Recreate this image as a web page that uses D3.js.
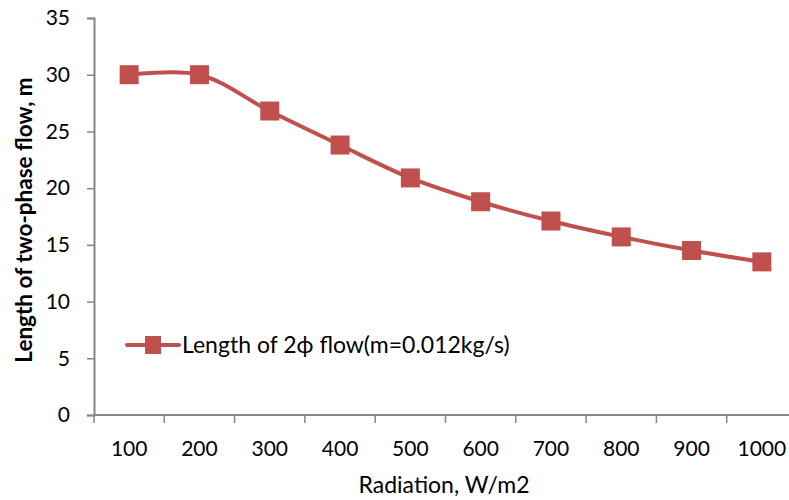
<!DOCTYPE html>
<html>
<head>
<meta charset="utf-8">
<script src="https://cdn.jsdelivr.net/npm/d3@7"></script>
<style>
  body { margin: 0; background: #fff; }
  svg text { font-family: Lato, "Open Sans", sans-serif; fill: #000; }
</style>
</head>
<body>
<svg id="chart" width="789" height="500"></svg>
<script>
// chart data
const radiation = ['100', '200', '300', '400', '500', '600', '700', '800', '900', '1000'];
const flowLength = [30, 30, 26.8, 23.8, 20.9, 18.8, 17.1, 15.7, 14.5, 13.5];
const yTicks = [0, 5, 10, 15, 20, 25, 30, 35];
const seriesName = 'Length of 2\u03d5 flow(m=0.012kg/s)';

const red = '#c0504d';
const axisGray = '#868686';

const margin = { left: 94, right: -8, top: 18, bottom: 85 };
const w = 789, h = 500;

const svg = d3.select('#chart');

const x = d3.scaleBand()
  .domain(radiation)
  .range([margin.left, w - margin.right]);

const y = d3.scaleLinear()
  .domain([0, 35])
  .range([h - margin.bottom, margin.top]);

// y axis
const yAxis = svg.append('g')
  .attr('transform', `translate(${margin.left},0)`)
  .call(d3.axisLeft(y).tickValues(yTicks).tickSize(7).tickPadding(17));
yAxis.select('.domain').attr('stroke', axisGray).attr('stroke-width', 2);
yAxis.selectAll('.tick line').attr('stroke', axisGray).attr('stroke-width', 1.5);
yAxis.selectAll('.tick text').style('font-size', '21px').attr('fill', '#000');

// x axis (ticks on band boundaries)
const xAxisG = svg.append('g')
  .attr('transform', `translate(0,${y(0)})`);
xAxisG.append('line')
  .attr('x1', margin.left).attr('x2', w - margin.right)
  .attr('stroke', axisGray).attr('stroke-width', 2);
const bounds = radiation.map(d => x(d)).concat([x(radiation[radiation.length - 1]) + x.bandwidth()]);
xAxisG.selectAll('line.tk')
  .data(bounds)
  .enter()
  .append('line')
  .attr('class', 'tk')
  .attr('x1', d => d).attr('x2', d => d)
  .attr('y1', 0).attr('y2', 8)
  .attr('stroke', axisGray).attr('stroke-width', 1.5);
xAxisG.selectAll('text')
  .data(radiation)
  .enter()
  .append('text')
  .attr('x', d => x(d) + x.bandwidth() / 2)
  .attr('y', 41)
  .attr('text-anchor', 'middle')
  .style('font-size', '21px')
  .text(d => d);

// axis titles
svg.append('text')
  .attr('x', 444)
  .attr('y', 493)
  .attr('text-anchor', 'middle')
  .style('font-size', '23px')
  .text('Radiation, W/m2');

svg.append('text')
  .attr('transform', 'translate(32,220) rotate(-90)')
  .attr('text-anchor', 'middle')
  .style('font-size', '22.5px')
  .style('font-weight', 'bold')
  .text('Length of two-phase flow, m');

// smoothed series line
const cx = d => x(d) + x.bandwidth() / 2;
const line = d3.line()
  .x((d, i) => cx(radiation[i]))
  .y(d => y(d))
  .curve(d3.curveCatmullRom.alpha(0.5));

svg.append('path')
  .datum(flowLength)
  .attr('d', line)
  .attr('fill', 'none')
  .attr('stroke', red)
  .attr('stroke-width', 4);

const ms = 19; // marker size
svg.selectAll('rect.marker')
  .data(flowLength)
  .enter()
  .append('rect')
  .attr('class', 'marker')
  .attr('x', (d, i) => cx(radiation[i]) - ms / 2)
  .attr('y', d => y(d) - ms / 2)
  .attr('width', ms)
  .attr('height', ms)
  .attr('fill', red);

// legend
const lg = svg.append('g').attr('transform', 'translate(127,345)');
lg.append('line')
  .attr('x1', 0).attr('x2', 52)
  .attr('stroke', red).attr('stroke-width', 4).attr('stroke-linecap', 'round');
lg.append('rect')
  .attr('x', 26 - 8).attr('y', -9)
  .attr('width', 16).attr('height', 18)
  .attr('fill', red);
lg.append('text')
  .attr('x', 55)
  .attr('y', 8)
  .style('font-size', '23px')
  .text(seriesName);
</script>
</body>
</html>
